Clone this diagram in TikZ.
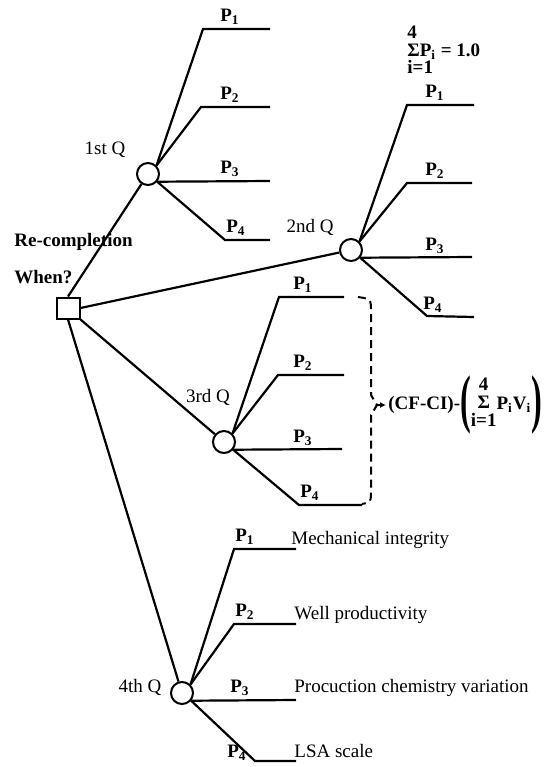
\documentclass[tikz,border=0pt]{standalone}
\usepackage{fontspec}
\usepackage{graphicx}
\setmainfont{Liberation Serif}
\usetikzlibrary{positioning,arrows.meta}
\newcommand{\tallparen}[1]{$\vcenter{\hbox{\scalebox{1.7}[3.4]{#1}}}$}

\begin{document}
\begin{tikzpicture}[
  x=0.5pt, y=-0.5pt,
  every node/.style={font=\fontsize{9.5}{11}\selectfont},
  decision/.style={draw, rectangle, line width=1pt, minimum width=11.5pt, minimum height=10.5pt, inner sep=0pt},
  chance/.style={draw, circle, line width=1pt, minimum size=11pt, inner sep=0pt},
  branch/.style={line width=1.1pt},
  plbl/.style={font=\fontsize{9.5}{11}\selectfont\bfseries, inner sep=1pt},
  qlbl/.style={inner sep=1pt},
  outcome/.style={anchor=west, inner sep=1pt},
  arr/.style={-{Latex[length=3pt,width=3pt]}, line width=0.6pt}
]
\useasboundingbox (0,0) rectangle (552,767);

% decision and chance nodes
\node[decision] (root) at (68,308) {};
\node[chance] (q1) at (148,174) {};
\node[chance] (q2) at (351,250) {};
\node[chance] (q3) at (224,442) {};
\node[chance] (q4) at (182,693) {};

\node[anchor=west, inner sep=1pt, font=\fontsize{9.5}{11}\selectfont\bfseries] (recomp) at (12,242) {Re-completion};
\node[anchor=west, inner sep=1pt, font=\fontsize{9.5}{11}\selectfont\bfseries] (when) at (12,277) {When?};
\node[qlbl] (q1l) at (105,150) {1st Q};
\node[qlbl] (q2l) at (310,227) {2nd Q};
\node[qlbl] (q3l) at (208,397) {3rd Q};
\node[qlbl] (q4l) at (140,687) {4th Q};

% 1st Q branches
\coordinate (a1) at (203,29);  \coordinate (a1e) at (270,29);
\coordinate (a2) at (201,107); \coordinate (a2e) at (270,107);
\coordinate (a3e) at (270,181);
\coordinate (a4) at (225,240); \coordinate (a4e) at (270,240);
\node[plbl] (a1p) at (230,17) {P\textsubscript{1}};
\node[plbl] (a2p) at (230,95) {P\textsubscript{2}};
\node[plbl] (a3p) at (230,169) {P\textsubscript{3}};
\node[plbl] (a4p) at (236,228) {P\textsubscript{4}};

% 2nd Q branches
\coordinate (b1) at (407,105); \coordinate (b1e) at (474,105);
\coordinate (b2) at (407,183); \coordinate (b2e) at (472,183);
\coordinate (b3e) at (472,257);
\coordinate (b4) at (427,316); \coordinate (b4e) at (474,317);
\node[plbl] (b1p) at (435,93) {P\textsubscript{1}};
\node[plbl] (b2p) at (435,171) {P\textsubscript{2}};
\node[plbl] (b3p) at (435,246) {P\textsubscript{3}};
\node[plbl] (b4p) at (433,305) {P\textsubscript{4}};
\node[anchor=west, align=left, inner sep=0pt, font=\fontsize{9.5}{8.8}\selectfont\bfseries] (psum) at (407,50) {4\\ΣP\textsubscript{i} = 1.0\\i=1};

% 3rd Q branches
\coordinate (c1) at (279,297); \coordinate (c1e) at (344,297);
\coordinate (c2) at (278,375); \coordinate (c2e) at (344,375);
\coordinate (c3e) at (342,449);
\coordinate (c4) at (299,505); \coordinate (c4e) at (362,505);
\node[plbl] (c1p) at (303,285) {P\textsubscript{1}};
\node[plbl] (c2p) at (303,363) {P\textsubscript{2}};
\node[plbl] (c3p) at (303,438) {P\textsubscript{3}};
\node[plbl] (c4p) at (310,493) {P\textsubscript{4}};

% 4th Q branches
\coordinate (d1) at (234,549); \coordinate (d1e) at (296,549);
\coordinate (d2) at (234,624); \coordinate (d2e) at (296,624);
\coordinate (d3e) at (296,700);
\coordinate (d4) at (255,761); \coordinate (d4e) at (296,761);
\node[plbl] (d1p) at (245,537) {P\textsubscript{1}};
\node[plbl] (d2p) at (245,612) {P\textsubscript{2}};
\node[plbl] (d3p) at (240,688) {P\textsubscript{3}};
\node[plbl] (d4p) at (237,753) {P\textsubscript{4}};
\node[outcome] (mech) at (289,540) {Mechanical integrity};
\node[outcome] (prod) at (292,615) {Well productivity};
\node[outcome] (chem) at (292,688) {Procuction chemistry variation};
\node[outcome] (lsa) at (292,751) {LSA scale};

% expected value of the 3rd Q
\coordinate (bt) at (358,297);
\coordinate (btip) at (377,405);
\coordinate (bb) at (362,504);
\node[anchor=west, inner sep=1pt, font=\fontsize{9.5}{11}\selectfont\bfseries] (npv) at (386,405)
  {(CF-CI)-\tallparen{(}\def\arraystretch{0.8}\begin{tabular}{@{}c@{}}4\\Σ\\i=1\end{tabular}P\textsubscript{i}V\textsubscript{i}\tallparen{)}};

\draw[branch] (root.north) -- (q1);
\draw[branch] (root.east) -- (q2);
\draw[branch] (root.south east) -- (q3);
\draw[branch] (root.south) -- (q4);

\draw[branch] (q1.45) -- (a1) -- (a1e);
\draw[branch] (q1.45) -- (a2) -- (a2e);
\draw[branch] (q1.-40) -- (a3e);
\draw[branch] (q1.-40) -- (a4) -- (a4e);

\draw[branch] (q2.45) -- (b1) -- (b1e);
\draw[branch] (q2.45) -- (b2) -- (b2e);
\draw[branch] (q2.-40) -- (b3e);
\draw[branch] (q2.-40) -- (b4) -- (b4e);

\draw[branch] (q3.45) -- (c1) -- (c1e);
\draw[branch] (q3.45) -- (c2) -- (c2e);
\draw[branch] (q3.-40) -- (c3e);
\draw[branch] (q3.-40) -- (c4) -- (c4e);

\draw[branch] (q4.45) -- (d1) -- (d1e);
\draw[branch] (q4.45) -- (d2) -- (d2e);
\draw[branch] (q4.-40) -- (d3e);
\draw[branch] (q4.-40) -- (d4) -- (d4e);

\draw[line width=1pt, dash pattern=on 4pt off 2.5pt] (bt) .. controls (371,299) .. (371,312) -- (371,395) -- (btip) -- (371,415) -- (371,490) .. controls (371,502) .. (bb);
\draw[arr] (btip) -- (npv.west);
\end{tikzpicture}
\end{document}
